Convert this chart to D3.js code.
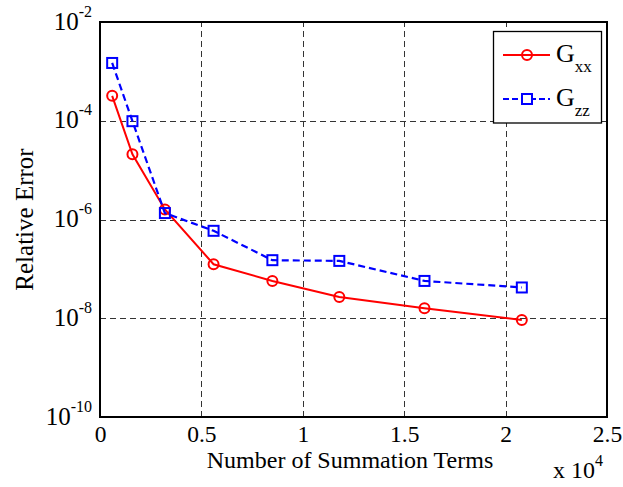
<!DOCTYPE html>
<html>
<head>
<meta charset="utf-8">
<script src="https://cdn.jsdelivr.net/npm/d3@7"></script>
<style>
  html, body { margin: 0; padding: 0; background: #fff; }
  svg { display: block; font-family: "Liberation Serif", "Times New Roman", serif; }
</style>
</head>
<body>
<svg id="chart" width="623" height="487"></svg>
<script>
// Number of summation terms used for each run
const terms = [600, 1600, 3200, 5600, 8500, 11800, 16000, 20800];
// Relative error of the two Green's function components
const errGxx = [3.2e-4, 2.1e-5, 1.6e-6, 1.24e-7, 5.7e-8, 2.7e-8, 1.6e-8, 9.2e-9];
const errGzz = [1.48e-3, 9.8e-5, 1.35e-6, 5.9e-7, 1.5e-7, 1.45e-7, 5.7e-8, 4.2e-8];
// Axis ticks
const xTicks = [0, 5000, 10000, 15000, 20000, 25000];
const xTickLabels = ["0", "0.5", "1", "1.5", "2", "2.5"];
const yTicks = [1e-10, 1e-8, 1e-6, 1e-4, 1e-2];
const yTickExponents = ["-10", "-8", "-6", "-4", "-2"];

const svg = d3.select("#chart");
const plotLeft = 100, plotRight = 607, plotTop = 22, plotBottom = 417;

const x = d3.scaleLinear().domain([0, 25000]).range([plotLeft, plotRight]);
const y = d3.scaleLog().domain([1e-10, 1e-2]).range([plotBottom, plotTop]);

// Dashed grid
const grid = svg.append("g").attr("stroke", "#333").attr("stroke-width", 1)
  .attr("stroke-dasharray", "6,4").attr("fill", "none");
grid.selectAll("line.v").data(xTicks.slice(1, -1)).join("line")
  .attr("class", "v")
  .attr("x1", d => Math.round(x(d)) + 0.5).attr("x2", d => Math.round(x(d)) + 0.5)
  .attr("y1", plotBottom).attr("y2", plotTop);
grid.selectAll("line.h").data(yTicks.slice(1, -1)).join("line")
  .attr("class", "h")
  .attr("y1", d => Math.round(y(d)) + 0.5).attr("y2", d => Math.round(y(d)) + 0.5)
  .attr("x1", plotLeft).attr("x2", plotRight);

// X axis
const xAxis = svg.append("g").attr("transform", `translate(0,${plotBottom})`)
  .call(d3.axisBottom(x).tickValues(xTicks).tickSize(0).tickPadding(0)
    .tickFormat((d, i) => xTickLabels[i]));
xAxis.select(".domain").remove();
xAxis.selectAll("text")
  .attr("y", 25).attr("dy", 0)
  .attr("font-size", 23.5).attr("font-family", "Liberation Serif").attr("fill", "#000");

// Y axis with superscript exponents
const yAxis = svg.append("g").attr("transform", `translate(${plotLeft},0)`)
  .call(d3.axisLeft(y).tickValues(yTicks).tickSize(0).tickPadding(0).tickFormat(() => ""));
yAxis.select(".domain").remove();
yAxis.selectAll(".tick text").each(function(d, i) {
  const t = d3.select(this)
    .attr("x", -8).attr("dy", 0).attr("y", 7)
    .attr("text-anchor", "end")
    .attr("font-family", "Liberation Serif").attr("fill", "#000");
  t.append("tspan").attr("font-size", 25).text("10");
  t.append("tspan").attr("font-size", 16).attr("dy", -13).text(yTickExponents[i]);
});

// Axes frame
svg.append("rect")
  .attr("x", plotLeft).attr("y", plotTop)
  .attr("width", plotRight - plotLeft).attr("height", plotBottom - plotTop)
  .attr("fill", "none").attr("stroke", "#000").attr("stroke-width", 2);

// Axis titles
svg.append("text")
  .attr("x", 350).attr("y", 468)
  .attr("text-anchor", "middle").attr("font-size", 24)
  .text("Number of Summation Terms");

const mult = svg.append("text").attr("x", 553).attr("y", 478).attr("font-size", 24);
mult.append("tspan").text("x 10");
mult.append("tspan").attr("font-size", 16).attr("dy", -12).text("4");

svg.append("text")
  .attr("transform", `translate(33,${(plotTop + plotBottom) / 2}) rotate(-90)`)
  .attr("text-anchor", "middle").attr("font-size", 25)
  .text("Relative Error");

// Series
const line = d3.line().x(d => x(d[0])).y(d => y(d[1]));
const gxx = d3.zip(terms, errGxx);
const gzz = d3.zip(terms, errGzz);

svg.append("path").datum(gxx).attr("d", line)
  .attr("fill", "none").attr("stroke", "#ff0000").attr("stroke-width", 2);
svg.selectAll("circle.gxx").data(gxx).join("circle")
  .attr("class", "gxx")
  .attr("cx", d => x(d[0])).attr("cy", d => y(d[1])).attr("r", 5)
  .attr("fill", "none").attr("stroke", "#ff0000").attr("stroke-width", 2);

svg.append("path").datum(gzz).attr("d", line)
  .attr("fill", "none").attr("stroke", "#0000ff").attr("stroke-width", 2.2)
  .attr("stroke-dasharray", "7,4");
svg.selectAll("rect.gzz").data(gzz).join("rect")
  .attr("class", "gzz")
  .attr("x", d => x(d[0]) - 5).attr("y", d => y(d[1]) - 5)
  .attr("width", 10).attr("height", 10)
  .attr("fill", "none").attr("stroke", "#0000ff").attr("stroke-width", 2);

// Legend
const lg = svg.append("g");
lg.append("rect").attr("x", 493.5).attr("y", 31.5).attr("width", 108).attr("height", 91.5)
  .attr("fill", "#fff").attr("stroke", "#000").attr("stroke-width", 1.3);

lg.append("line").attr("x1", 503).attr("x2", 550).attr("y1", 55).attr("y2", 55)
  .attr("stroke", "#ff0000").attr("stroke-width", 2);
lg.append("circle").attr("cx", 527).attr("cy", 55).attr("r", 5)
  .attr("fill", "none").attr("stroke", "#ff0000").attr("stroke-width", 2);
const t1 = lg.append("text").attr("x", 556).attr("y", 62).attr("font-size", 26);
t1.append("tspan").text("G");
t1.append("tspan").attr("font-size", 17).attr("dy", 10).text("xx");

lg.append("line").attr("x1", 503).attr("x2", 550).attr("y1", 99).attr("y2", 99)
  .attr("stroke", "#0000ff").attr("stroke-width", 2).attr("stroke-dasharray", "6,3");
lg.append("rect").attr("x", 522).attr("y", 94).attr("width", 10).attr("height", 10)
  .attr("fill", "#fff").attr("stroke", "#0000ff").attr("stroke-width", 2);
const t2 = lg.append("text").attr("x", 556).attr("y", 106).attr("font-size", 26);
t2.append("tspan").text("G");
t2.append("tspan").attr("font-size", 17).attr("dy", 10).text("zz");
</script>
</body>
</html>
